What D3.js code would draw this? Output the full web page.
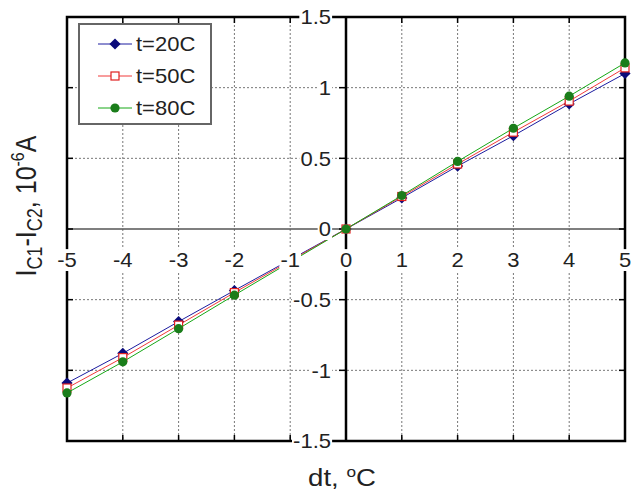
<!DOCTYPE html>
<html>
<head>
<meta charset="utf-8">
<script src="https://cdn.jsdelivr.net/npm/d3@7"></script>
<style>
  body { margin: 0; background: #fff; }
  text { font-family: "Liberation Sans", Arial, sans-serif; }
</style>
</head>
<body>
<div class="container"></div>
<script>
const WIDTH = 633;
const HEIGHT = 491;
const LEFT = 67, RIGHT = 625, TOP = 17, BOTTOM = 441;
const STRETCH = 1.1; // the reference glyphs are a little wide

const xValues = [-5, -4, -3, -2, 0, 1, 2, 3, 4, 5];
const xTicks = [-5, -4, -3, -2, -1, 0, 1, 2, 3, 4, 5];
const yTicks = [-1.5, -1, -0.5, 0, 0.5, 1, 1.5];
const yTickLabels = ["-1.5", "-1", "-0.5", "0", "0.5", "1", "1.5"];

const seriesNames = ["t=20C", "t=50C", "t=80C"];
const t20 = [-1.09, -0.88, -0.655, -0.435, 0, 0.22, 0.445, 0.66, 0.885, 1.10];
const t50 = [-1.125, -0.91, -0.68, -0.45, 0, 0.23, 0.46, 0.685, 0.905, 1.14];
const t80 = [-1.16, -0.94, -0.705, -0.468, 0, 0.237, 0.478, 0.713, 0.94, 1.175];

var translate = function (x, y) {
    return "translate(" + x + "," + y + ")";
};

var svg = d3.select('.container').append('svg')
    .attr('width', WIDTH)
    .attr('height', HEIGHT);

var xScale = d3.scaleLinear().domain([-5, 5]).range([LEFT, RIGHT]);
var yScale = d3.scaleLinear().domain([-1.5, 1.5]).range([BOTTOM, TOP]);

// dotted grid
svg.append('g').selectAll('line')
    .data(xTicks.filter(function (d) { return d !== -5 && d !== 0 && d !== 5; }))
    .join('line')
    .attr('x1', function (d) { return xScale(d); })
    .attr('x2', function (d) { return xScale(d); })
    .attr('y1', TOP).attr('y2', BOTTOM)
    .attr('stroke', '#777').attr('stroke-dasharray', '2,2');

svg.append('g').selectAll('line')
    .data(yTicks.filter(function (d) { return Math.abs(d) !== 1.5 && d !== 0; }))
    .join('line')
    .attr('x1', LEFT).attr('x2', RIGHT)
    .attr('y1', function (d) { return yScale(d); })
    .attr('y2', function (d) { return yScale(d); })
    .attr('stroke', '#777').attr('stroke-dasharray', '2,2');

// zero line
svg.append('line')
    .attr('x1', LEFT).attr('x2', RIGHT)
    .attr('y1', yScale(0)).attr('y2', yScale(0))
    .attr('stroke', '#555').attr('stroke-width', 1.3);

// frame and centre axis
svg.append('rect')
    .attr('x', LEFT).attr('y', TOP)
    .attr('width', RIGHT - LEFT).attr('height', BOTTOM - TOP)
    .attr('fill', 'none').attr('stroke', '#000').attr('stroke-width', 2.5);

svg.append('line')
    .attr('x1', xScale(0)).attr('x2', xScale(0))
    .attr('y1', TOP).attr('y2', BOTTOM)
    .attr('stroke', '#000').attr('stroke-width', 2.5);

// ticks
var ticks = svg.append('g').attr('stroke', '#000').attr('stroke-width', 1.5);
xTicks.forEach(function (d) {
    ticks.append('line').attr('x1', xScale(d)).attr('x2', xScale(d)).attr('y1', TOP).attr('y2', TOP + 6);
    ticks.append('line').attr('x1', xScale(d)).attr('x2', xScale(d)).attr('y1', BOTTOM).attr('y2', BOTTOM - 6);
});
yTicks.forEach(function (d) {
    ticks.append('line').attr('x1', LEFT).attr('x2', LEFT + 6).attr('y1', yScale(d)).attr('y2', yScale(d));
    ticks.append('line').attr('x1', RIGHT).attr('x2', RIGHT - 6).attr('y1', yScale(d)).attr('y2', yScale(d));
    ticks.append('line').attr('x1', xScale(0) - 7).attr('x2', xScale(0)).attr('y1', yScale(d)).attr('y2', yScale(d));
});

// series
var series = [
    { name: seriesNames[0], values: t20, line: '#1c1ca0', mark: '#0a0a7a', shape: 'diamond' },
    { name: seriesNames[1], values: t50, line: '#f03a3a', mark: '#e02020', shape: 'square' },
    { name: seriesNames[2], values: t80, line: '#16a816', mark: '#1a7d1a', shape: 'circle' }
];

var line = d3.line()
    .x(function (d, i) { return xScale(xValues[i]); })
    .y(function (d) { return yScale(d); });

var drawMarker = function (g, s, x, y) {
    if (s.shape === 'diamond') {
        g.append('path')
            .attr('d', d3.symbol(d3.symbolSquare, 62)())
            .attr('transform', translate(x, y) + ' rotate(45)')
            .attr('fill', s.mark);
    } else if (s.shape === 'square') {
        g.append('rect')
            .attr('x', x - 4).attr('y', y - 4).attr('width', 8).attr('height', 8)
            .attr('fill', '#fff').attr('stroke', s.mark).attr('stroke-width', 1.2);
    } else {
        g.append('circle')
            .attr('cx', x).attr('cy', y).attr('r', 4.6)
            .attr('fill', s.mark);
    }
};

series.forEach(function (s) {
    var g = svg.append('g');
    g.append('path')
        .attr('d', line(s.values))
        .attr('fill', 'none')
        .attr('stroke', s.line)
        .attr('stroke-width', 1);
    s.values.forEach(function (v, i) {
        drawMarker(g, s, xScale(xValues[i]), yScale(v));
    });
});

// tick labels on white boxes
var boxedLabel = function (x, y, txt, anchor) {
    var g = svg.append('g').attr('transform', translate(x, y) + ' scale(' + STRETCH + ',1)');
    var t = g.append('text')
        .attr('text-anchor', anchor)
        .attr('dy', '0.36em')
        .attr('font-size', 20)
        .attr('fill', '#222')
        .text(txt);
    var b = t.node().getBBox();
    g.insert('rect', 'text')
        .attr('x', b.x - 1).attr('y', b.y)
        .attr('width', b.width + 2).attr('height', b.height)
        .attr('fill', '#fff');
};

xTicks.forEach(function (d) {
    boxedLabel(xScale(d), 260, String(d), 'middle');
});
yTicks.forEach(function (d, i) {
    boxedLabel(xScale(0) - 15, yScale(d), yTickLabels[i], 'end');
});

// axis titles
var xt = svg.append('text')
    .attr('transform', translate(xScale(0) - 4, 486) + ' scale(1.15,1)')
    .attr('text-anchor', 'middle')
    .attr('font-size', 24)
    .attr('fill', '#222');
xt.append('tspan').text('dt, ');
xt.append('tspan').attr('font-size', 15).attr('dy', -9).text('o');
xt.append('tspan').attr('dy', 9).text('C');

var yt = svg.append('text')
    .attr('transform', translate(36, 206) + ' scale(1.2,1) rotate(-90)')
    .attr('text-anchor', 'middle')
    .attr('font-size', 25)
    .attr('fill', '#222');
yt.append('tspan').text('I');
yt.append('tspan').attr('font-size', 18).attr('dy', 5).text('C1');
yt.append('tspan').attr('dy', -5).text('-I');
yt.append('tspan').attr('font-size', 18).attr('dy', 5).text('C2');
yt.append('tspan').attr('dy', -5).text(', 10');
yt.append('tspan').attr('font-size', 16).attr('dy', -10).text('-6');
yt.append('tspan').attr('dy', 10).text('A');

// legend
var legend = svg.append('g');
legend.append('rect')
    .attr('x', 79).attr('y', 24).attr('width', 132).attr('height', 100)
    .attr('fill', '#fff').attr('stroke', '#666').attr('stroke-width', 2);
series.forEach(function (s, i) {
    var y = 44 + i * 32;
    legend.append('line')
        .attr('x1', 98).attr('x2', 132).attr('y1', y).attr('y2', y)
        .attr('stroke', s.line).attr('stroke-width', 1);
    drawMarker(legend, s, 115, y);
    legend.append('text')
        .attr('transform', translate(136, y + 7) + ' scale(' + STRETCH + ',1)')
        .attr('font-size', 20)
        .attr('fill', '#222')
        .text(s.name);
});
</script>
</body>
</html>
